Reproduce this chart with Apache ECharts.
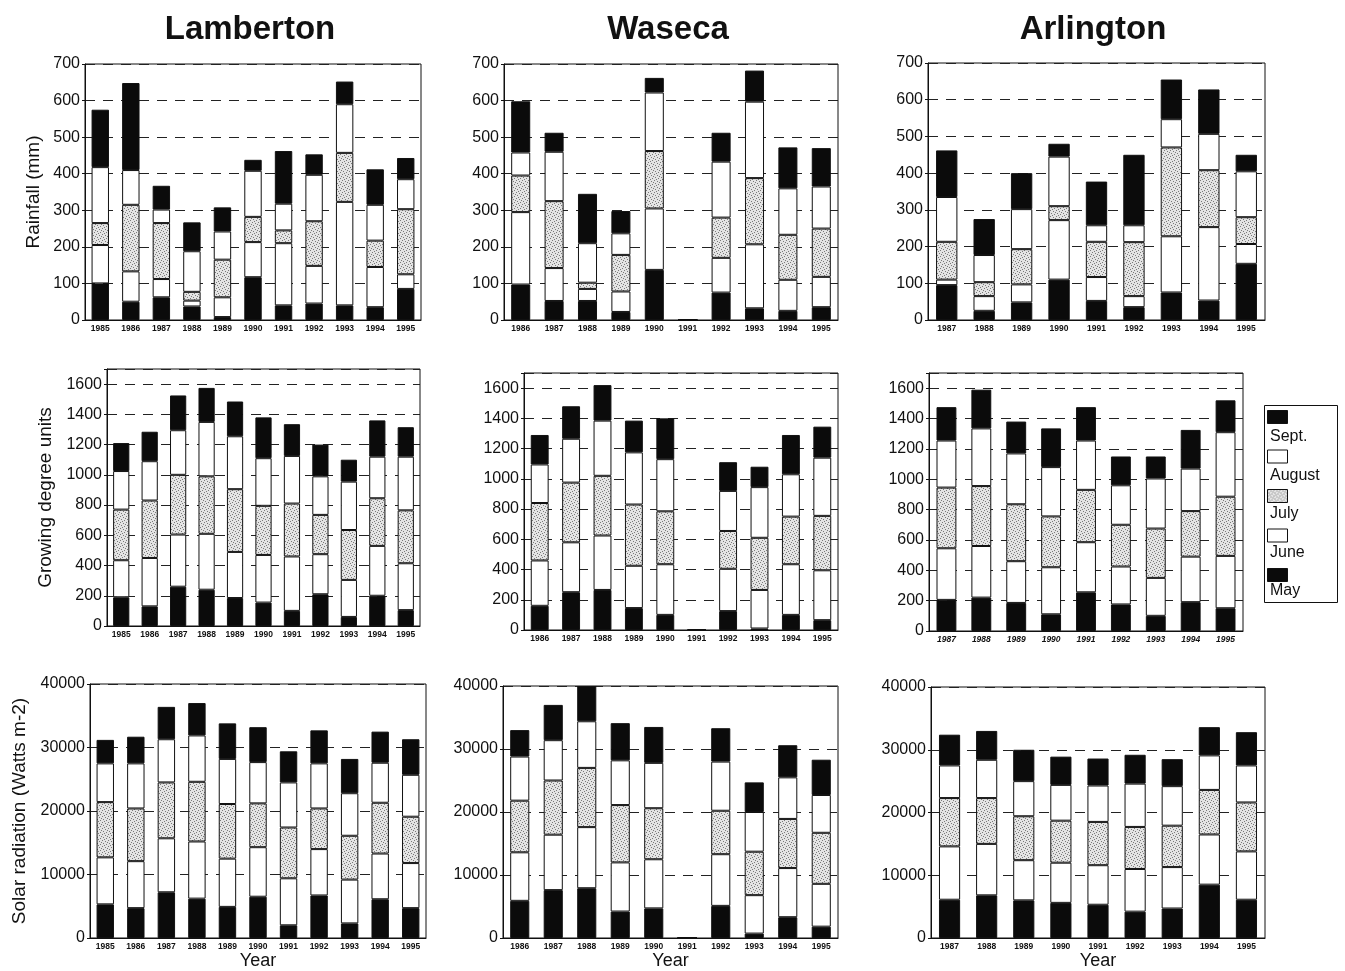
<!DOCTYPE html>
<html>
<head>
<meta charset="utf-8">
<script src="https://cdn.jsdelivr.net/npm/echarts@6/dist/echarts.min.js"></script>
<style>
html,body{margin:0;padding:0;background:#fff;}
#c{width:1345px;height:971px;}
</style>
</head>
<body>
<div id="c"></div>
<script>
// ---- Data (monthly values, order: May, June, July, August, Sept.) ----
const months = ['May', 'June', 'July', 'August', 'Sept.'];
const legendOrder = ['Sept.', 'August', 'July', 'June', 'May'];
const sites = ['Lamberton', 'Waseca', 'Arlington'];

const yearsLam = ['1985','1986','1987','1988','1989','1990','1991','1992','1993','1994','1995'];
const yearsWas = ['1986','1987','1988','1989','1990','1991','1992','1993','1994','1995'];
const yearsArl = ['1987','1988','1989','1990','1991','1992','1993','1994','1995'];

// Rainfall (mm)
const rainLam = [
  [100,50,62,37,8,117,40,45,40,35,85],
  [105,83,50,16,54,96,170,103,283,110,40],
  [60,182,153,24,103,69,35,122,134,72,178],
  [153,95,37,111,77,126,73,127,133,98,82],
  [157,238,65,79,66,30,144,56,62,97,58]
];
const rainWas = [
  [97,52,52,22,137,0,75,32,25,35],
  [198,90,33,56,168,0,95,175,85,83],
  [100,183,17,100,157,0,110,181,123,132],
  [63,135,108,59,160,0,153,209,127,115],
  [140,52,135,61,40,0,79,85,112,105]
];
const rainArl = [
  [95,25,48,110,52,35,75,53,153],
  [15,40,49,162,65,30,153,200,54],
  [103,38,96,38,96,147,242,155,73],
  [122,74,109,135,45,46,77,99,125],
  [127,98,98,35,119,192,108,121,45]
];

// Growing degree units
const gduLam = [
  [190,130,260,240,185,155,100,210,60,200,105],
  [245,320,345,370,305,315,360,265,245,330,310],
  [335,380,395,380,415,325,350,260,330,315,350],
  [255,260,295,360,350,315,315,255,320,275,355],
  [185,195,230,225,230,270,210,210,145,240,195]
];
const gduWas = [
  [160,250,265,145,100,0,125,10,100,65],
  [300,330,360,280,335,0,280,255,335,330],
  [380,395,395,405,350,0,250,345,315,360],
  [255,290,365,345,345,0,265,335,280,385],
  [195,215,235,210,270,0,190,135,260,205]
];
const gduArl = [
  [205,220,185,110,255,175,100,190,150],
  [340,340,275,310,330,250,250,300,345],
  [400,395,375,335,345,275,325,300,390],
  [310,380,335,325,325,260,330,280,425],
  [220,255,210,255,220,190,145,255,210]
];

// Solar radiation (Watts m-2)
const solLam = [
  [5300,4700,7200,6200,4900,6500,2000,6700,2300,6100,4700],
  [7400,7400,8500,9000,7600,7800,7400,7300,6900,7200,7100],
  [8700,8300,8800,9400,8600,6900,8000,6400,6900,8000,7300],
  [6100,7100,6800,7300,7100,6500,7100,7100,6700,6300,6600],
  [3700,4200,5100,5100,5600,5500,4900,5200,5400,4900,5600]
];
const solWas = [
  [5900,7600,7900,4200,4700,0,5100,700,3300,1800],
  [7700,8800,9700,7800,7800,0,8200,6100,7800,6800],
  [8200,8600,9400,9100,8100,0,6900,6900,7800,8100],
  [7000,6400,7400,7100,7200,0,7800,6300,6600,6000],
  [4200,5600,5600,5900,5700,0,5300,4700,5100,5600]
];
const solArl = [
  [6100,6800,6000,5600,5300,4200,4700,8500,6100],
  [8500,8200,6400,6400,6300,6800,6600,8000,7700],
  [7700,7300,7000,6700,6900,6700,6600,7100,7800],
  [5200,6100,5600,5700,5800,6900,6300,5500,5900],
  [4900,4600,5000,4500,4300,4600,4300,4500,5300]
];

// ---- Layout / style ----
const FONT = '"Liberation Sans", Arial, sans-serif';
const panels = [
  // row 1
  {data: rainLam, years: yearsLam, left: 85,  top: 64,  width: 336, height: 256, max: 700,   interval: 100,   yName: 'Rainfall (mm)', nameGap: 42},
  {data: rainWas, years: yearsWas, left: 504, top: 64,  width: 334, height: 256, max: 700,   interval: 100},
  {data: rainArl, years: yearsArl, left: 928, top: 63,  width: 337, height: 257, max: 700,   interval: 100},
  // row 2
  {data: gduLam,  years: yearsLam, left: 107, top: 369, width: 313, height: 257, max: 1700,  interval: 200,   yName: 'Growing degree units', nameGap: 52},
  {data: gduWas,  years: yearsWas, left: 524, top: 373, width: 314, height: 257, max: 1700,  interval: 200},
  {data: gduArl,  years: yearsArl, left: 929, top: 373, width: 314, height: 258, max: 1700,  interval: 200, italic: true},
  // row 3
  {data: solLam,  years: yearsLam, left: 90,  top: 684, width: 336, height: 257, max: 40000, interval: 10000, yName: 'Solar radiation (Watts m-2)', nameGap: 61, xName: 'Year'},
  {data: solWas,  years: yearsWas, left: 503, top: 686, width: 335, height: 256, max: 40000, interval: 10000, xName: 'Year'},
  {data: solArl,  years: yearsArl, left: 931, top: 687, width: 334, height: 257, max: 40000, interval: 10000, xName: 'Year'}
];

// stippled fill for July
function stipple() {
  const c = document.createElement('canvas');
  c.width = 6; c.height = 6;
  const g = c.getContext('2d');
  g.fillStyle = '#e4e4e4';
  g.fillRect(0, 0, 6, 6);
  g.fillStyle = '#7a7a7a';
  [[0,0],[3,1],[1,3],[4,4],[5,2],[2,5]].forEach(([x, y]) => g.fillRect(x, y, 1, 1));
  return {image: c, repeat: 'repeat'};
}
const julyFill = stipple();

const monthStyle = {
  'May':    {color: '#0b0b0b'},
  'June':   {color: '#ffffff'},
  'July':   {color: julyFill},
  'August': {color: '#ffffff'},
  'Sept.':  {color: '#0b0b0b'}
};

const grids = [], xAxes = [], yAxes = [], series = [];
panels.forEach((p, i) => {
  grids.push({left: p.left, top: p.top, width: p.width, height: p.height, show: true, borderColor: '#111', borderWidth: 1, backgroundColor: 'transparent'});
  xAxes.push({
    type: 'category', gridIndex: i, data: p.years,
    axisLine: {lineStyle: {color: '#111', width: 1}},
    axisTick: {show: false},
    axisLabel: {color: '#111', fontFamily: FONT, fontSize: 8.5, fontWeight: 'bold', fontStyle: p.italic ? 'italic' : 'normal', margin: 4, interval: 0},
    name: p.xName || '', nameLocation: 'middle', nameGap: 14,
    nameTextStyle: {color: '#111', fontFamily: FONT, fontSize: 18}
  });
  yAxes.push({
    type: 'value', gridIndex: i, min: 0, max: p.max, interval: p.interval,
    axisLine: {show: true, lineStyle: {color: '#111', width: 1}},
    axisTick: {show: true, length: 3, lineStyle: {color: '#111'}},
    axisLabel: {color: '#111', fontFamily: FONT, fontSize: 16, margin: 5,
      formatter: v => (v % p.interval === 0 ? String(v) : '')},
    splitLine: {show: true, lineStyle: {color: '#222', width: 1, type: [10, 8]}},
    name: p.yName || '', nameLocation: 'middle', nameGap: p.nameGap || 40, nameRotate: 90,
    nameTextStyle: {color: '#111', fontFamily: FONT, fontSize: 19}
  });
  months.forEach((m, k) => {
    series.push({
      name: m, type: 'bar', xAxisIndex: i, yAxisIndex: i, stack: 'p' + i,
      data: p.data[k], barWidth: '57%',
      itemStyle: Object.assign({borderColor: '#111', borderWidth: 1}, monthStyle[m]),
      emphasis: {disabled: true}, animation: false
    });
  });
});

const titles = sites.map((s, i) => ({
  text: s, left: [245, 663, 1088][i], top: 8, textAlign: 'center',
  textStyle: {fontFamily: FONT, fontSize: 33, fontWeight: 'bold', color: '#111'}
}));

const option = {
  backgroundColor: '#fff',
  animation: false,
  title: titles,
  grid: grids, xAxis: xAxes, yAxis: yAxes, series: series,
  legend: [
    { // swatches
      data: legendOrder, orient: 'vertical', left: 1267, top: 410,
      icon: 'rect',
      itemWidth: 20, itemHeight: 13, itemGap: 25.5, padding: 0,
      formatter: () => ' ',
      textStyle: {fontSize: 1, lineHeight: 13},
      itemStyle: {borderColor: '#111', borderWidth: 1}
    },
    { // labels under swatches
      data: legendOrder, orient: 'vertical', left: 1264, top: 428,
      itemWidth: 0, itemHeight: 0, itemGap: 20.5, padding: 0,
      icon: 'rect',
      textStyle: {fontFamily: FONT, fontSize: 16, lineHeight: 18, color: '#111'}
    }
  ],
  graphic: [
    {type: 'rect', left: 1262, top: 403, shape: {width: 73, height: 197}, style: {fill: 'none', stroke: '#111', lineWidth: 1}, silent: true}
  ]
};

const chart = echarts.init(document.getElementById('c'), null, {renderer: 'canvas'});
chart.setOption(option);
</script>
</body>
</html>
